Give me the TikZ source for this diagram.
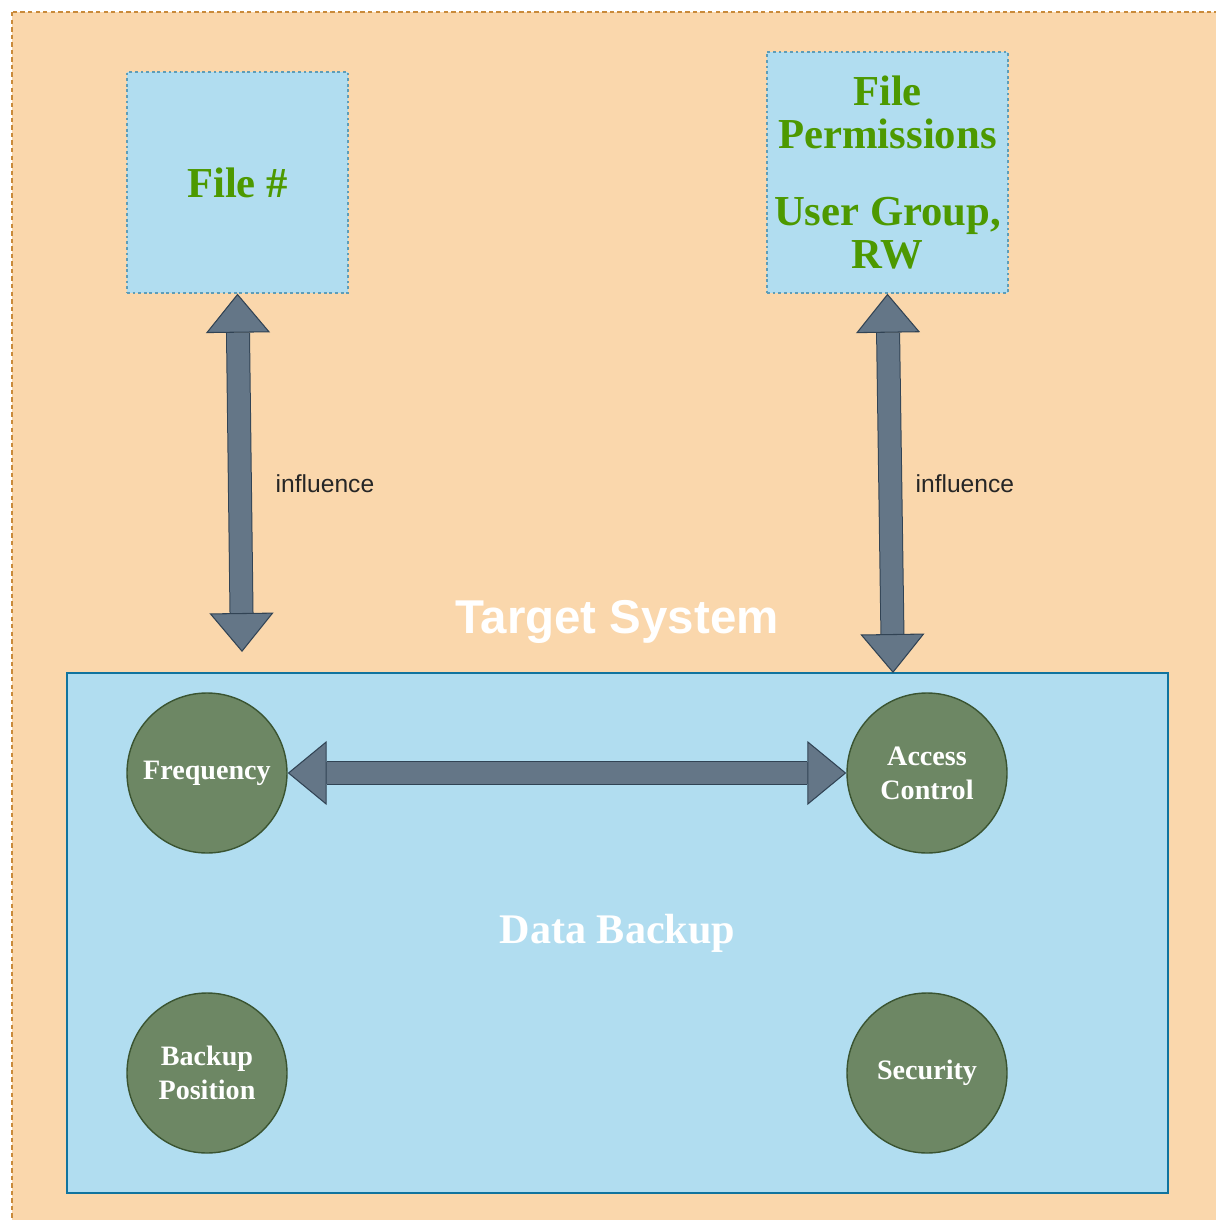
\documentclass[tikz,border=0pt]{standalone}
\usepackage{fontspec}
\setmainfont{Liberation Serif}
\setsansfont{Liberation Sans}
\usetikzlibrary{arrows.meta}

\definecolor{peach}{HTML}{FAD7AC}
\definecolor{peachline}{HTML}{C98A3A}
\definecolor{skyblue}{HTML}{B1DDF0}
\definecolor{skyline}{HTML}{10739E}
\definecolor{dotline}{HTML}{5E9DB8}
\definecolor{moss}{HTML}{6D8764}
\definecolor{mossline}{HTML}{3A5431}
\definecolor{slate}{HTML}{647687}
\definecolor{slateline}{HTML}{314354}
\definecolor{leaf}{HTML}{4D9900}

\begin{document}
\begin{tikzpicture}[>=latex, font=\rmfamily\bfseries]
  \tikzstyle{infobox} = [draw=dotline, fill=skyblue, line width=0.8pt, dash pattern=on 1.6pt off 1.6pt,
                         text=leaf, align=center, inner sep=0pt, font=\fontsize{24.3}{24.5}\selectfont\bfseries]
  \tikzstyle{topic} = [circle, draw=mossline, fill=moss, line width=0.8pt, minimum size=3.2cm,
                       inner sep=0pt, text=white, align=center, font=\fontsize{16}{19.5}\selectfont\bfseries]
  \tikzstyle{fatarrow} = [line width=0.44cm, draw=slate,
                          {Triangle[length=0.78cm, width=1.28cm, fill=slate, color=slateline, line width=0.6pt]}-{Triangle[length=0.78cm, width=1.28cm, fill=slate, color=slateline, line width=0.6pt]},
                          preaction={draw=slateline, line width=0.48cm, -, shorten <=0.78cm, shorten >=0.78cm}]
  \tikzstyle{note} = [text=black!85, font=\sffamily\fontsize{14}{16}\selectfont]

  \useasboundingbox (0,0) rectangle (24.3,-24.4);

  % backdrop
  \draw[fill=peach, draw=peachline, line width=1.1pt, dash pattern=on 2.5pt off 1.8pt]
    (0.24,-0.24) rectangle (24.9,-24.9);

  % top boxes
  \node[infobox, minimum width=4.42cm, minimum height=4.42cm] (filenum) at (4.75,-3.65) {File \#};
  \node[infobox, minimum width=4.82cm, minimum height=4.82cm] (fileperm) at (17.75,-3.45)
    {File\\Permissions\\[19pt]User Group,\\RW};

  % system block
  \node[draw=skyline, fill=skyblue, line width=1.2pt, minimum width=22.02cm, minimum height=10.4cm,
        text=white, font=\fontsize{24}{28}\selectfont\bfseries] (backup) at (12.35,-18.66) {Data Backup};
  \node[text=white, font=\fontsize{27}{32}\selectfont\sffamily\bfseries] (target) at (12.34,-12.44) {Target System};

  \node[topic] (freq) at (4.14,-15.46) {Frequency};
  \node[topic] (access) at (18.54,-15.46) {Access\\Control};
  \node[topic] (backpos) at (4.14,-21.46) {Backup\\Position};
  \node[topic] (security) at (18.54,-21.46) {Security};

  % arrows
  \coordinate (lefttip) at (4.84,-13.04);
  \coordinate (righttip) at (17.86,-13.46);
  \draw[fatarrow] (filenum.south) -- (lefttip) node[note, pos=0.53, right=0.38cm] (inflA) {influence};
  \draw[fatarrow] (fileperm.south) -- (righttip) node[note, pos=0.5, right=0.17cm] (inflB) {influence};
  \draw[fatarrow] (freq) -- (access);
\end{tikzpicture}
\end{document}
